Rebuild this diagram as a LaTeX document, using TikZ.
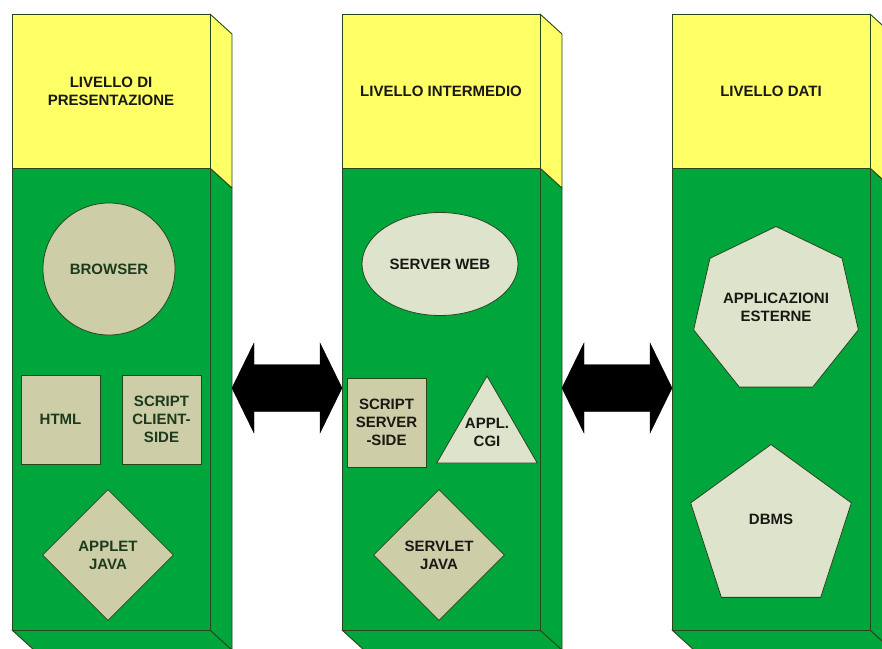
\documentclass[tikz,border=0pt]{standalone}
\usepackage{fontspec}
\setmainfont{Liberation Sans}
\usetikzlibrary{shapes.geometric,calc}

\definecolor{tierYellow}{RGB}{255,255,102}
\definecolor{tierGreen}{RGB}{0,166,60}
\definecolor{edgeDark}{RGB}{40,70,30}
\definecolor{khaki}{RGB}{205,205,168}
\definecolor{paleSage}{RGB}{222,228,204}
\definecolor{textGreen}{RGB}{28,58,28}
\definecolor{textDark}{RGB}{25,25,20}

\tikzset{
  face/.style={draw=edgeDark, line width=0.9pt, line join=round},
  lbl/.style={font=\bfseries\fontsize{15}{18}\selectfont, align=center},
  header/.style={lbl, text=textDark},
  item/.style={lbl, draw=edgeDark, line width=0.8pt, inner sep=0pt},
  boxitem/.style={item, rectangle, fill=khaki, text=textGreen,
    minimum width=79pt, minimum height=89pt},
  blockarrow/.style={fill=black, draw=black, line join=miter},
}

\begin{document}
\begin{tikzpicture}[x=1pt, y=-1pt]
  \clip (0,0) rectangle (882,648);
  \fill[white] (0,0) rectangle (882,648);

  % three extruded tier columns: bottom, side and front faces
  \foreach \x in {12,342,672} {
    \filldraw[face, fill=tierGreen] (\x,630) -- (\x+198,630) -- (\x+220,650) -- (\x+22,650) -- cycle;
    \filldraw[face, fill=tierGreen] (\x+198,168) -- (\x+220,188) -- (\x+220,650) -- (\x+198,630) -- cycle;
    \filldraw[face, fill=tierYellow] (\x+198,14) -- (\x+220,34) -- (\x+220,188) -- (\x+198,168) -- cycle;
    \filldraw[face, fill=tierYellow] (\x,14) rectangle (\x+198,168);
    \filldraw[face, fill=tierGreen] (\x,168) rectangle (\x+198,630);
  }

  % tier headings
  \node[header] (hPres) at (111,91) {LIVELLO DI\\PRESENTAZIONE};
  \node[header] (hMid)  at (441,91) {LIVELLO INTERMEDIO};
  \node[header] (hData) at (771,91) {LIVELLO DATI};

  % presentation tier
  \node[item, circle, fill=khaki, text=textGreen, minimum size=132pt] (browser) at (109,269) {BROWSER};
  \node[boxitem] (html) at (60.5,419.5) {HTML};
  \node[boxitem] (clientscript) at (161.5,419.5) {SCRIPT\\CLIENT-\\SIDE};
  \node[item, diamond, aspect=1, fill=khaki, text=textGreen, minimum size=131pt] (applet) at (108,555) {APPLET\\JAVA};

  % middle tier
  \node[item, ellipse, fill=paleSage, text=textDark, minimum width=156pt, minimum height=103pt] (webserver) at (440,264) {SERVER WEB};
  \node[boxitem, text=textDark] (serverscript) at (386.5,422.5) {SCRIPT\\SERVER\\-SIDE};
  \node[item, regular polygon, regular polygon sides=3, fill=paleSage, text=textDark, minimum size=116pt] (cgi) at (487,434) {};
  \node[lbl, text=textDark] (cgitext) at (487,432) {APPL.\\CGI};
  \node[item, diamond, aspect=1, fill=khaki, text=textDark, minimum size=131pt] (servlet) at (439,555) {SERVLET\\JAVA};

  % data tier
  \node[item, regular polygon, regular polygon sides=7, fill=paleSage, text=textDark, minimum size=169pt] (extapps) at (776,311) {};
  \node[lbl, text=textDark] (extappstext) at (776,307) {APPLICAZIONI\\ESTERNE};
  \node[item, regular polygon, regular polygon sides=5, fill=paleSage, text=textDark, minimum size=169pt] (dbms) at (771,529) {};
  \node[lbl, text=textDark] (dbmstext) at (771,519) {DBMS};

  % two-way block arrows between the tiers
  \coordinate (aL) at (232,388);
  \coordinate (aR) at (342,388);
  \coordinate (bL) at (562,388);
  \coordinate (bR) at (672,388);
  \foreach \l/\r in {aL/aR, bL/bR} {
    \filldraw[blockarrow] (\l) -- ($(\l)+(22,-45)$) -- ($(\l)+(22,-23.5)$)
      -- ($(\r)+(-22,-23.5)$) -- ($(\r)+(-22,-45)$) -- (\r)
      -- ($(\r)+(-22,45)$) -- ($(\r)+(-22,23.5)$)
      -- ($(\l)+(22,23.5)$) -- ($(\l)+(22,45)$) -- cycle;
  }
\end{tikzpicture}
\end{document}
